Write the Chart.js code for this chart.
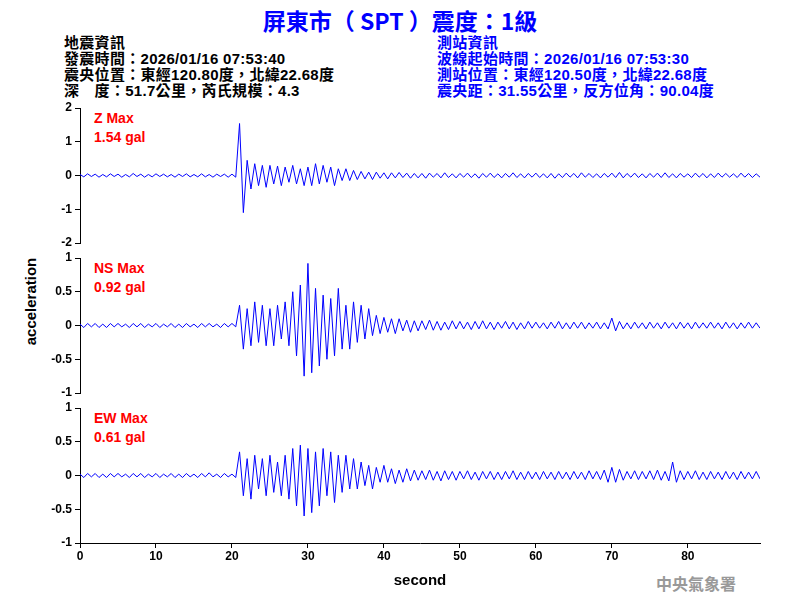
<!DOCTYPE html>
<html><head><meta charset="utf-8">
<script src="https://cdn.jsdelivr.net/npm/chart.js@4"></script>
<style>
body{margin:0;width:800px;height:600px;background:#fff;position:relative;overflow:hidden;font-family:"Liberation Sans",Arial,sans-serif}
canvas{position:absolute;left:0;top:0}
.t{position:absolute;white-space:nowrap;font-weight:bold;font-family:"Liberation Sans","Noto Sans CJK TC",sans-serif}
.h{font-size:15px;line-height:16px;letter-spacing:0.3px}
.r{color:#f00;font-size:14px}
</style></head><body>
<div class="t" style="left:0;width:800px;text-align:center;top:3px;font-size:23px;color:#0000ff;font-family:'Noto Sans CJK TC',sans-serif">屏東市（ SPT ）震度：1級</div>
<div class="t h" style="left:64px;top:35px;color:#000">地震資訊<br>發震時間：2026/01/16 07:53:40<br>震央位置：東經120.80度，北緯22.68度<br>深　度：51.7公里，芮氏規模：4.3</div>
<div class="t h" style="left:437px;top:35px;color:#0000ff">測站資訊<br>波線起始時間：2026/01/16 07:53:30<br>測站位置：東經120.50度，北緯22.68度<br>震央距：31.55公里，反方位角：90.04度</div>
<div class="t" style="left:-25px;top:293px;width:110px;text-align:center;font-size:15px;transform:rotate(-90deg)">acceleration</div>
<div class="t" style="left:656px;top:571px;font-size:16px;color:#999;font-family:'Noto Sans CJK TC',serif">中央氣象署</div>
<div class="t r" style="left:94px;top:110px">Z Max</div><div class="t r" style="left:94px;top:129px">1.54 gal</div>
<div class="t r" style="left:94px;top:260px">NS Max</div><div class="t r" style="left:94px;top:279px">0.92 gal</div>
<div class="t r" style="left:94px;top:410px">EW Max</div><div class="t r" style="left:94px;top:429px">0.61 gal</div>
<canvas id="c1" width="800" height="600"></canvas>
<canvas id="c2" width="800" height="600"></canvas>
<canvas id="c3" width="800" height="600"></canvas>
<script>
const zValues=[
0.03,-0.04,0.05,-0.03,0.04,-0.05,0.03,-0.04,0.05,-0.03,
0.04,-0.05,0.03,-0.04,0.06,-0.03,0.04,-0.05,0.03,-0.04,
0.05,-0.03,0.04,-0.04,0.03,-0.05,0.04,-0.03,0.05,-0.04,
0.03,-0.04,0.05,-0.04,0.03,-0.05,0.04,-0.03,0.04,-0.05,
0.04,-0.05,1.54,-1.1,0.45,-0.4,0.35,-0.3,0.3,-0.35,
0.3,-0.25,0.28,-0.3,0.25,-0.2,0.3,-0.25,0.2,-0.3,
0.25,-0.3,0.35,-0.25,0.3,-0.2,0.25,-0.3,0.2,-0.15,
0.2,-0.15,0.15,-0.12,0.12,-0.1,0.1,-0.12,0.1,-0.08,
0.08,-0.1,0.08,-0.07,0.09,-0.06,0.07,-0.08,0.06,-0.07,
0.06,-0.08,0.07,-0.05,0.06,-0.07,0.08,-0.06,0.05,-0.07,
0.06,-0.05,0.07,-0.06,0.05,-0.08,0.06,-0.05,0.07,-0.06,
0.05,-0.07,0.06,-0.05,0.08,-0.06,0.05,-0.07,0.06,-0.05,
0.07,-0.06,0.05,-0.07,0.06,-0.08,0.05,-0.06,0.07,-0.05,
0.06,-0.07,0.08,-0.05,0.06,-0.06,0.05,-0.07,0.06,-0.05,
0.07,-0.06,0.09,-0.07,0.06,-0.05,0.07,-0.06,0.05,-0.07,
0.06,-0.05,0.07,-0.06,0.08,-0.06,0.05,-0.07,0.06,-0.05,
0.05,-0.06,0.07,-0.05,0.06,-0.07,0.05,-0.06,0.07,-0.05,
0.06,-0.05,0.05,-0.06,0.07,-0.05,0.06,-0.06,0.05,-0.05];
const nsValues=[
0.02,-0.03,0.03,-0.02,0.03,-0.03,0.02,-0.03,0.03,-0.02,
0.03,-0.02,0.02,-0.03,0.03,-0.02,0.03,-0.03,0.02,-0.02,
0.03,-0.03,0.02,-0.02,0.03,-0.03,0.02,-0.03,0.03,-0.02,
0.02,-0.03,0.03,-0.02,0.03,-0.02,0.02,-0.03,0.03,-0.02,
0.03,-0.02,0.3,-0.35,0.25,-0.3,0.35,-0.25,0.3,-0.3,
0.25,-0.3,0.3,-0.2,0.35,-0.3,0.5,-0.45,0.6,-0.75,
0.92,-0.7,0.55,-0.6,0.45,-0.5,0.4,-0.45,0.55,-0.35,
0.3,-0.35,0.35,-0.25,0.3,-0.2,0.25,-0.15,0.15,-0.12,
0.12,-0.1,0.1,-0.12,0.1,-0.08,0.08,-0.1,0.07,-0.08,
0.07,-0.06,0.08,-0.07,0.06,-0.07,0.05,-0.06,0.07,-0.05,
0.06,-0.05,0.05,-0.06,0.06,-0.05,0.07,-0.05,0.05,-0.06,
0.05,-0.04,0.06,-0.05,0.05,-0.06,0.04,-0.05,0.06,-0.04,
0.05,-0.04,0.04,-0.05,0.05,-0.04,0.06,-0.05,0.04,-0.05,
0.05,-0.04,0.05,-0.05,0.04,-0.04,0.05,-0.05,0.04,-0.05,
0.11,-0.08,0.06,-0.05,0.04,-0.05,0.05,-0.04,0.04,-0.05,
0.05,-0.04,0.04,-0.05,0.05,-0.04,0.04,-0.05,0.05,-0.04,
0.04,-0.05,0.05,-0.04,0.04,-0.04,0.05,-0.04,0.04,-0.05,
0.05,-0.04,0.04,-0.05,0.04,-0.04,0.05,-0.04,0.04,-0.04];
const ewValues=[
0.02,-0.03,0.03,-0.02,0.03,-0.03,0.02,-0.03,0.03,-0.02,
0.03,-0.02,0.02,-0.03,0.03,-0.02,0.03,-0.03,0.02,-0.02,
0.03,-0.03,0.02,-0.02,0.03,-0.03,0.02,-0.03,0.03,-0.02,
0.02,-0.03,0.03,-0.02,0.04,-0.02,0.02,-0.03,0.03,-0.02,
0.02,-0.03,0.35,-0.3,0.25,-0.35,0.3,-0.2,0.25,-0.3,
0.3,-0.25,0.2,-0.3,0.3,-0.35,0.4,-0.45,0.45,-0.6,
0.4,-0.55,0.35,-0.45,0.4,-0.3,0.35,-0.4,0.3,-0.25,
0.3,-0.2,0.25,-0.2,0.2,-0.15,0.15,-0.2,0.12,-0.1,
0.15,-0.1,0.1,-0.12,0.08,-0.1,0.1,-0.08,0.08,-0.07,
0.07,-0.06,0.08,-0.07,0.06,-0.08,0.07,-0.06,0.06,-0.07,
0.06,-0.05,0.07,-0.06,0.05,-0.07,0.06,-0.05,0.06,-0.06,
0.05,-0.06,0.06,-0.05,0.07,-0.06,0.05,-0.06,0.06,-0.05,
0.05,-0.06,0.06,-0.05,0.05,-0.06,0.06,-0.05,0.05,-0.06,
0.06,-0.05,0.05,-0.06,0.07,-0.05,0.06,-0.06,0.08,-0.1,
0.12,-0.1,0.09,-0.07,0.06,-0.05,0.07,-0.06,0.06,-0.05,
0.07,-0.06,0.08,-0.07,0.06,-0.08,0.2,-0.1,0.07,-0.06,
0.06,-0.05,0.07,-0.06,0.05,-0.06,0.06,-0.05,0.05,-0.06,
0.06,-0.05,0.05,-0.06,0.06,-0.05,0.05,-0.05,0.06,-0.05];
const sampleStep=0.5;
const xTicks=[0,10,20,30,40,50,60,70,80];
const zTicks=[-2,-1,0,1,2];
const hTicks=[-1,-0.5,0,0.5,1];

const font={family:"'Liberation Sans',Arial,sans-serif",size:12,weight:'bold'};
function make(id,vals,yTicks,top,bottom,showX){
  const data=vals.map((v,i)=>({x:i*sampleStep,y:v}));
  new Chart(document.getElementById(id),{
    type:'line',
    data:{datasets:[{data,borderColor:'#0000ff',borderWidth:1,pointRadius:0,tension:0}]},
    options:{responsive:false,animation:false,events:[],
      layout:{padding:{top:top,bottom:showX?10:bottom,left:0,right:40}},
      plugins:{legend:{display:false},tooltip:{enabled:false}},
      scales:{
        x:{type:'linear',min:0,max:89.5,display:showX,
          afterBuildTicks:a=>{a.ticks=xTicks.map(v=>({value:v}));},
          afterFit:s=>{if(showX)s.height=47;else s.height=0;},
          grid:{drawOnChartArea:false,drawTicks:true,tickLength:5,color:'#000'},
          border:{color:'#000',width:1},
          ticks:{color:'#000',font,padding:1,maxRotation:0,callback:v=>String(v)},
          title:{display:true,text:'second',color:'#000',font:{...font,size:15},padding:{top:2,bottom:0}}},
        y:{min:yTicks[0],max:yTicks[yTicks.length-1],
          afterBuildTicks:a=>{a.ticks=yTicks.map(v=>({value:v}));},
          afterFit:s=>{s.width=80;},
          grid:{drawOnChartArea:false,drawTicks:true,tickLength:5,color:'#000'},
          border:{color:'#000',width:1},
          ticks:{color:'#000',font,padding:3,callback:v=>String(v)}}
      }}
  });
}
make('c1',zValues,zTicks,108,357,false);
make('c2',nsValues,hTicks,258,207,false);
make('c3',ewValues,hTicks,408,0,true);
</script></body></html>
